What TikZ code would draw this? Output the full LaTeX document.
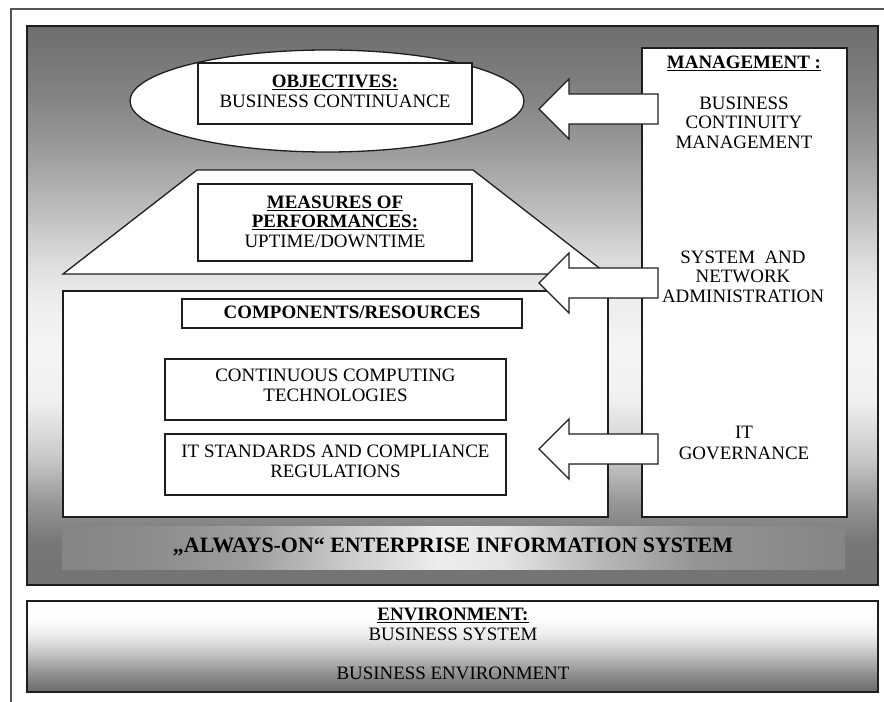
\documentclass[tikz,border=0pt]{standalone}
\usepackage{fontspec}
\setmainfont{Liberation Serif}
\usetikzlibrary{shapes.geometric}
\definecolor{ln}{HTML}{1E1E1E}
\definecolor{frm}{HTML}{555555}
% background of system box
\definecolor{g01}{gray}{0.45}
\definecolor{g02}{gray}{0.47}
\definecolor{g03}{gray}{0.60}
\definecolor{g04}{gray}{0.78}
\definecolor{g05}{gray}{0.94}
\definecolor{g06}{gray}{0.96}
\definecolor{g07}{gray}{0.93}
\definecolor{g08}{gray}{0.86}
\definecolor{g09}{gray}{0.72}
\definecolor{g10}{gray}{0.61}
\definecolor{g11}{gray}{0.52}
\definecolor{g12}{gray}{0.43}
\pgfdeclareverticalshading{bgshade}{100bp}{color(0bp)=(g01); color(25bp)=(g01); color(29bp)=(g02); color(32.6bp)=(g03); color(36.2bp)=(g04); color(41.5bp)=(g05); color(46bp)=(g06); color(50.5bp)=(g07); color(54.1bp)=(g08); color(59.4bp)=(g09); color(63.9bp)=(g10); color(68.4bp)=(g11); color(75bp)=(g12); color(100bp)=(g12)}
% environment box
\definecolor{e1}{gray}{0.42}
\definecolor{e2}{gray}{0.55}
\definecolor{e3}{gray}{0.75}
\definecolor{e4}{gray}{0.93}
\definecolor{e5}{gray}{0.99}
\definecolor{e6}{gray}{1.0}
\pgfdeclareverticalshading{envshade}{100bp}{color(0bp)=(e1); color(25bp)=(e1); color(34.3bp)=(e2); color(45.3bp)=(e3); color(56.3bp)=(e4); color(64.5bp)=(e5); color(75bp)=(e6); color(100bp)=(e6)}
% band
\definecolor{b1}{gray}{0.52}
\definecolor{b2}{gray}{0.55}
\definecolor{b3}{gray}{0.62}
\definecolor{b4}{gray}{0.80}
\definecolor{b5}{gray}{0.93}
\definecolor{b6}{gray}{0.90}
\definecolor{b7}{gray}{0.72}
\definecolor{b8}{gray}{0.58}
\pgfdeclarehorizontalshading{bandshade}{100bp}{color(0bp)=(b1); color(25bp)=(b1); color(30.6bp)=(b2); color(37bp)=(b3); color(43.4bp)=(b4); color(49.1bp)=(b5); color(53bp)=(b6); color(59.4bp)=(b7); color(65.7bp)=(b8); color(75bp)=(b1); color(100bp)=(b1)}
\tikzset{
  lbl/.style={font=\fontsize{19}{20}\selectfont, align=center, text=black, inner sep=0pt},
  wbox/.style={draw=ln, line width=1.3bp, fill=white, inner sep=0pt},
  shapeline/.style={draw=ln, line width=1.3bp, fill=white, line join=miter},
  blockarrow/.pic={\draw[shapeline] (0,0) -- (30,-30) -- (30,-15) -- (119,-15) -- (119,15) -- (30,15) -- (30,30) -- cycle;}
}
\begin{document}
\begin{tikzpicture}[x=1bp,y=-1bp]
\useasboundingbox (0,0) rectangle (884,702);
\fill[white] (0,0) rectangle (884,702);
\draw[frm, line width=1.2bp] (11,702) -- (11,9) -- (884,9);

% system box
\node[draw=ln, line width=1.3bp, shading=bgshade, minimum width=851bp, minimum height=559bp, inner sep=0pt] (sys) at (452.5,305.5) {};

% objectives
\node[wbox, ellipse, minimum width=394bp, minimum height=102bp] (ell) at (327,101) {};
\node[wbox, minimum width=274bp, minimum height=61bp] (obj) at (335,93.5) {};
\node[lbl] (objT) at (335,91.5) {\underline{\textbf{OBJECTIVES:}}\\BUSINESS CONTINUANCE};

% measures
\draw[shapeline] (197,170) -- (473,170) -- (607,274) -- (63,274) -- cycle;
\node[wbox, minimum width=274bp, minimum height=77bp] (mea) at (335,222.5) {};
\node[lbl, font=\fontsize{19}{19.5}\selectfont] (meaT) at (335,221.5) {\underline{\textbf{MEASURES OF}}\\\underline{\textbf{PERFORMANCES:}}\\UPTIME/DOWNTIME};

% components
\node[wbox, minimum width=545bp, minimum height=226bp] (comp) at (335.5,404) {};
\node[wbox, minimum width=340bp, minimum height=29bp] (compH) at (352,313.5) {};
\node[lbl] (compT) at (352,312.5) {\textbf{COMPONENTS/RESOURCES}};
\node[wbox, minimum width=341bp, minimum height=61bp] (cct) at (335.5,389.5) {};
\node[lbl] (cctT) at (335.5,385) {CONTINUOUS COMPUTING\\TECHNOLOGIES};
\node[wbox, minimum width=341bp, minimum height=61bp] (its) at (335.5,464.5) {};
\node[lbl] (itsT) at (335.5,461) {IT STANDARDS AND COMPLIANCE\\REGULATIONS};

% management
\node[wbox, minimum width=205bp, minimum height=469bp] (man) at (744.5,282.5) {};
\node[lbl] (manT) at (744,63) {\underline{\textbf{MANAGEMENT :}}};
\node[lbl, font=\fontsize{19}{19.5}\selectfont] (bcm) at (744,122.5) {BUSINESS\\CONTINUITY\\MANAGEMENT};
\node[lbl, font=\fontsize{19}{19.5}\selectfont] (sna) at (743,276.5) {SYSTEM\ \ AND\\NETWORK\\ADMINISTRATION};
\node[lbl, font=\fontsize{19}{21}\selectfont] (itg) at (744,442.5) {IT\\GOVERNANCE};

% band
\node[shading=bandshade, minimum width=783bp, minimum height=43bp, inner sep=0pt] (band) at (453.5,547.5) {};
\node[lbl, font=\fontsize{22}{24}\selectfont\bfseries] (bandT) at (453,547) {„ALWAYS-ON“ ENTERPRISE INFORMATION SYSTEM};

% arrows
\pic (arA) at (539,109) {blockarrow};
\pic (arB) at (539,283) {blockarrow};
\pic (arC) at (539,449) {blockarrow};

% environment
\node[draw=ln, line width=1.3bp, shading=envshade, minimum width=851bp, minimum height=91bp, inner sep=0pt] (env) at (452.5,646.5) {};
\node[lbl] (envT) at (453,624) {\underline{\textbf{ENVIRONMENT:}}\\BUSINESS SYSTEM};
\node[lbl] (envB) at (453,673) {BUSINESS ENVIRONMENT};
\end{tikzpicture}
\end{document}
